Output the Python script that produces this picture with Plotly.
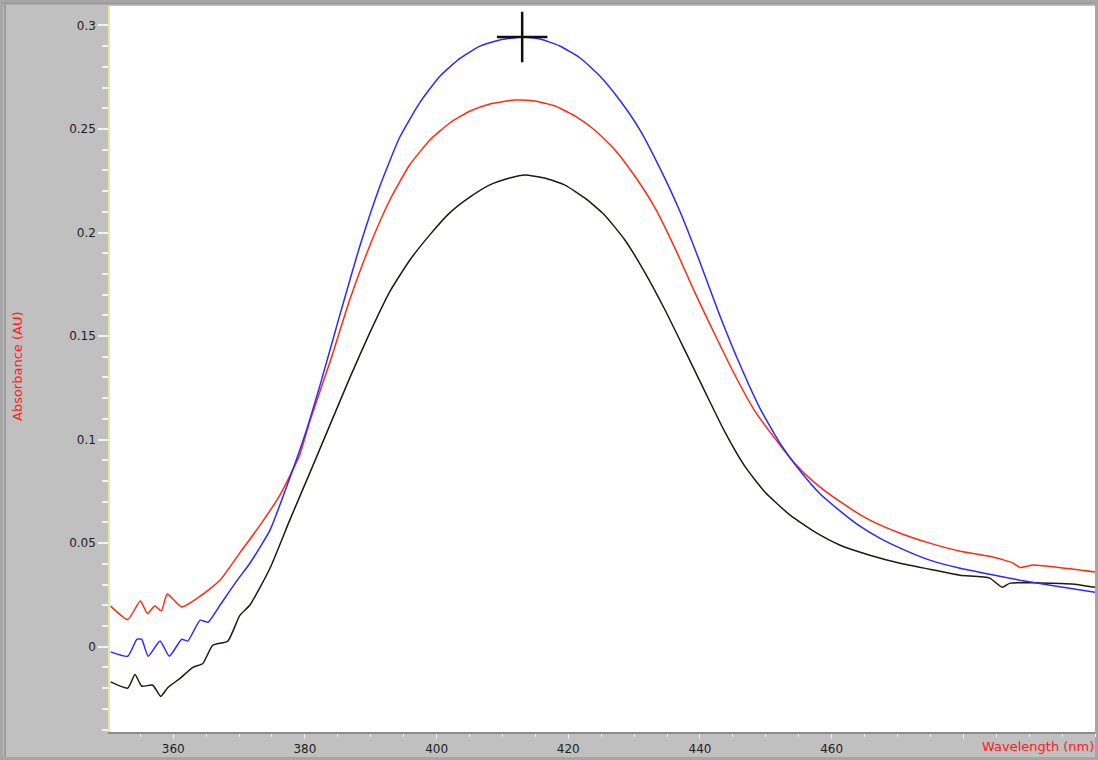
import plotly.graph_objects as go

# Absorbance spectra (wavelength in nm, absorbance in AU)
blue_nm = [350.5, 353.1, 354.5, 355.2, 356.2, 358.0, 359.4, 361.3, 362.2, 364.1, 365.3, 367.1, 369.7,
           371.65, 374.7, 377.7, 380.0, 382.3, 385.3, 388.4, 391.4, 394.4, 397.5, 400.5, 403.5, 406.6,
           409.6, 413.0, 415.7, 418.7, 421.8, 424.8, 427.8, 430.9, 433.9, 437.0, 440.0, 443.0, 446.1,
           449.1, 452.1, 455.2, 458.2, 461.3, 464.3, 467.3, 470.4, 474.9, 479.5, 484.0, 488.6, 493.2, 500.0]
blue_au = [-0.0025, -0.0046, 0.0036, 0.0036, -0.0046, 0.0028, -0.0046, 0.0036, 0.0027, 0.0128, 0.0118,
           0.0200, 0.0320, 0.0403, 0.0563, 0.0814, 0.1022, 0.1263, 0.1601, 0.1940, 0.2225, 0.2460, 0.2630,
           0.2755, 0.2840, 0.2900, 0.2930, 0.2944, 0.2935, 0.2901, 0.2843, 0.2756, 0.2640, 0.2495, 0.2312,
           0.2099, 0.1857, 0.1601, 0.1360, 0.1152, 0.0985, 0.0850, 0.0740, 0.0655, 0.0582, 0.0524, 0.0476,
           0.0418, 0.0379, 0.0350, 0.0321, 0.0297, 0.0263]

red_nm = [350.5, 353.1, 355.0, 356.1, 357.2, 358.2, 359.1, 361.3, 364.1, 367.1, 370.1, 373.2, 376.2,
          379.2, 380.8, 383.8, 386.8, 389.9, 392.9, 395.9, 399.0, 402.0, 405.1, 408.1, 411.9, 414.9,
          418.0, 421.0, 424.0, 427.1, 430.1, 433.2, 436.2, 439.2, 442.3, 445.3, 448.3, 451.4, 454.4,
          457.5, 461.3, 465.8, 470.4, 474.9, 479.5, 484.0, 487.5, 488.6, 490.6, 495.2, 500.0]
red_au = [0.0196, 0.0131, 0.0221, 0.0160, 0.0196, 0.0173, 0.0254, 0.0192, 0.0244, 0.0321, 0.0452,
          0.0587, 0.0732, 0.0925, 0.1094, 0.1374, 0.1674, 0.1940, 0.2157, 0.2326, 0.2447, 0.2529,
          0.2587, 0.2621, 0.2640, 0.2635, 0.2611, 0.2563, 0.2495, 0.2399, 0.2273, 0.2118, 0.1925,
          0.1712, 0.1505, 0.1312, 0.1140, 0.1005, 0.0885, 0.0790, 0.0700, 0.0611, 0.0548, 0.0500,
          0.0461, 0.0437, 0.0405, 0.0383, 0.0394, 0.0380, 0.0361]

black_nm = [350.5, 353.1, 354.2, 355.2, 356.9, 358.1, 359.2, 361.0, 363.0, 364.5, 366.0, 368.3, 370.1,
            371.65, 374.7, 377.7, 380.8, 383.8, 386.8, 389.9, 392.9, 395.9, 399.0, 402.0, 405.1, 408.1,
            411.1, 413.4, 416.4, 419.5, 422.5, 425.5, 428.6, 431.6, 434.7, 437.7, 440.8, 443.8, 446.8,
            449.9, 453.7, 457.5, 461.3, 465.8, 470.4, 474.9, 479.5, 484.0, 485.9, 487.1, 491.6, 496.9, 500.0]
black_au = [-0.0170, -0.0200, -0.0134, -0.0190, -0.0186, -0.0240, -0.0197, -0.0154, -0.0100, -0.0081,
            0.0007, 0.0027, 0.0150, 0.0201, 0.0379, 0.0611, 0.0843, 0.1070, 0.1297, 0.1519, 0.1715,
            0.1865, 0.1990, 0.2095, 0.2172, 0.2230, 0.2263, 0.2278, 0.2263, 0.2229, 0.2167, 0.2085,
            0.1964, 0.1809, 0.1626, 0.1432, 0.1229, 0.1036, 0.0872, 0.0746, 0.0635, 0.0553, 0.0490,
            0.0442, 0.0403, 0.0374, 0.0345, 0.0331, 0.0287, 0.0307, 0.0308, 0.0302, 0.0287]

# Cursor position on the highest peak
peak_nm = [413.0]
peak_au = [0.2944]

x_ticks = [360, 380, 400, 420, 440, 460, 480]
x_labels = ["360", "380", "400", "420", "440", "460", ""]
y_ticks = [0, 0.05, 0.1, 0.15, 0.2, 0.25, 0.3]
y_labels = ["0", "0.05", "0.1", "0.15", "0.2", "0.25", "0.3"]

W, H = 1098, 760
ML, MR, MT, MB = 110, 3, 6, 28
PW, PH = W - ML - MR, H - MT - MB


def px(x):
    return (x - ML) / PW


def py(y):
    return (H - MB - y) / PH


def spectrum(x, y, color):
    return go.Scatter(x=x, y=y, mode="lines", showlegend=False,
                      line=dict(color=color, width=1.5, shape="spline", smoothing=0.5))


fig = go.Figure()
fig.add_trace(spectrum(black_nm, black_au, "#1c1c0c"))
fig.add_trace(spectrum(red_nm, red_au, "#ff2a10"))
fig.add_trace(spectrum(blue_nm, blue_au, "#2a2aff"))
fig.add_trace(go.Scatter(x=peak_nm, y=peak_au, mode="markers",
                         marker=dict(symbol="cross-thin", size=36,
                                     line=dict(color="#101010", width=2.5)),
                         showlegend=False))

font_tick = dict(family="DejaVu Sans", size=12, color="#1e1e1e")

fig.update_xaxes(range=[350.4, 500], tickvals=x_ticks, ticktext=x_labels,
                 ticks="outside", ticklen=5, tickcolor="#f2f2f2", tickwidth=1,
                 minor=dict(dtick=5, tick0=350, ticks="outside", ticklen=3,
                            tickcolor="#f2f2f2", tickwidth=1),
                 showgrid=False, zeroline=False, showline=True, linecolor="#8c8c8c",
                 linewidth=2, tickfont=font_tick, mirror=False)
fig.update_yaxes(range=[-0.0412, 0.3094], tickvals=y_ticks, ticktext=y_labels,
                 ticks="outside", ticklen=10, tickcolor="#f2f2f2", tickwidth=1.5,
                 minor=dict(dtick=0.01, tick0=0, ticks="outside", ticklen=6,
                            tickcolor="#f2f2f2", tickwidth=1.5),
                 showgrid=False, zeroline=False, showline=True, linecolor="#e6e6a8",
                 linewidth=1.5, tickfont=font_tick)

shapes = [
    # outer frame of the panel
    dict(type="rect", xref="paper", yref="paper", x0=px(1.5), x1=px(W - 1.5), y0=py(H - 1.5), y1=py(1.5),
         line=dict(color="#a6a6a6", width=3), layer="below"),
    # darker inner stripe on the left and top edges
    dict(type="line", xref="paper", yref="paper", x0=px(5), x1=px(5), y0=py(H - 3), y1=py(3),
         line=dict(color="#9c9c9c", width=2)),
    dict(type="line", xref="paper", yref="paper", x0=px(3), x1=px(W - 3), y0=py(3.5), y1=py(3.5),
         line=dict(color="#9c9c9c", width=2)),
]

annotations = [
    dict(text="Absorbance (AU)", xref="paper", yref="paper", x=px(17), y=py(366),
         showarrow=False, textangle=-90, font=dict(family="DejaVu Sans", size=13, color="#ff1a1a"),
         xanchor="center", yanchor="middle"),
    dict(text="Wavelength (nm)", xref="paper", yref="paper", x=px(1096), y=py(746),
         showarrow=False, font=dict(family="DejaVu Sans", size=13, color="#ff1a1a"),
         xanchor="right", yanchor="middle"),
]

fig.update_layout(width=W, height=H, margin=dict(l=ML, r=MR, t=MT, b=MB),
                  paper_bgcolor="#c0c0c0", plot_bgcolor="#ffffff",
                  shapes=shapes, annotations=annotations, showlegend=False)

fig.write_html("out.html")
